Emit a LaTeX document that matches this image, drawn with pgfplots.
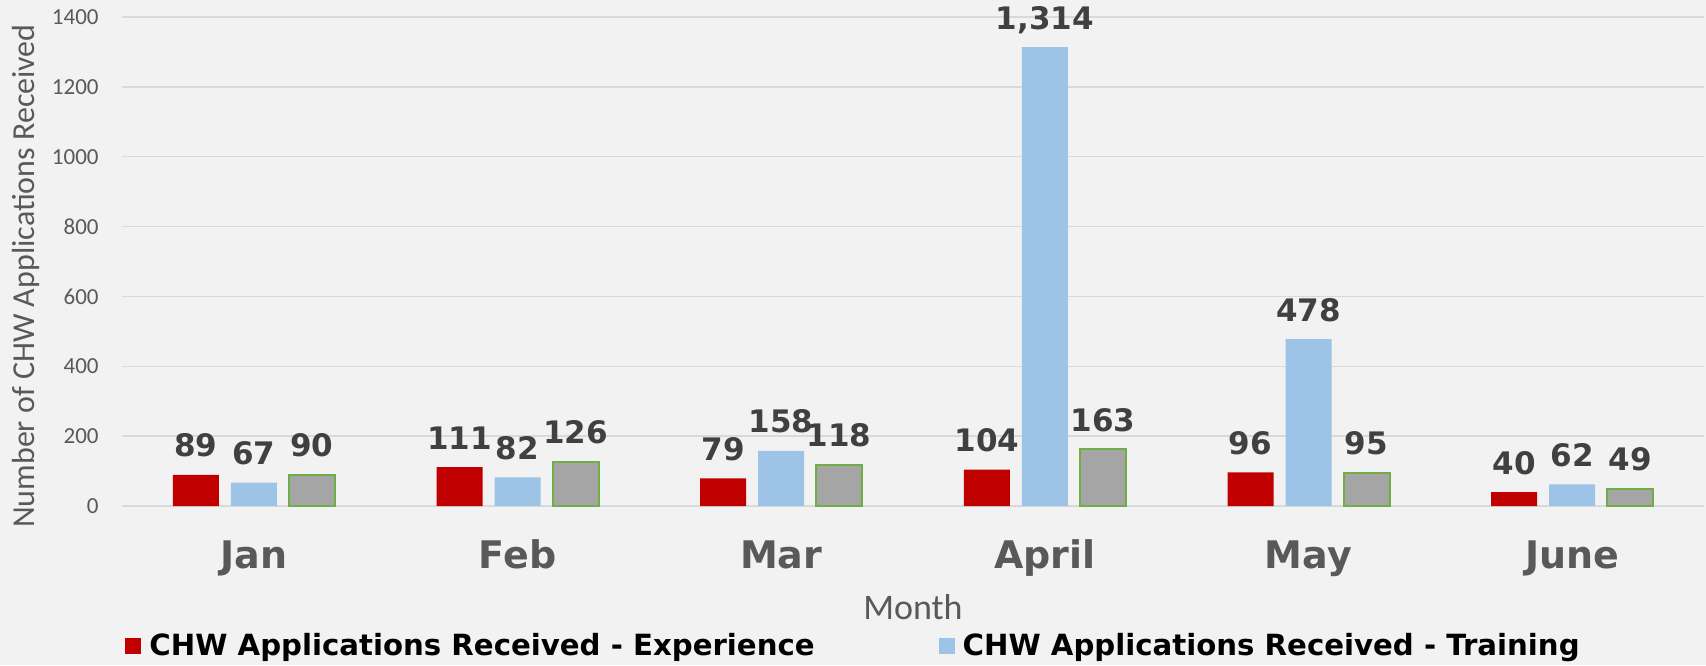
\documentclass[border=0pt]{standalone}
\usepackage{fontspec}
\setmainfont{DejaVu Sans}
\newfontfamily\carlito{Carlito}
\usepackage{pgfplots}
\pgfplotsset{compat=1.18}
\definecolor{bgc}{HTML}{F2F2F2}
\definecolor{gridc}{HTML}{D9D9D9}
\definecolor{tickc}{HTML}{595959}
\definecolor{labc}{HTML}{404040}
\definecolor{redc}{HTML}{C00000}
\definecolor{bluec}{HTML}{9DC3E6}
\definecolor{grayc}{HTML}{A5A5A5}
\definecolor{greenc}{HTML}{70AD47}
\begin{document}
\begin{tikzpicture}
\fill[bgc] (-61pt,-79.5pt) rectangle (792pt,253pt);
\begin{axis}[
  scale only axis, width=791pt, height=244.5pt,
  ybar=6pt, bar width=23pt,
  xmin=-0.5, xmax=5.5, ymin=0, ymax=1400,
  xtick={0,1,2,3,4,5},
  xticklabels={Jan,Feb,Mar,April,May,June},
  ytick={0,200,400,600,800,1000,1200,1400},
  major tick length=0pt,
  axis line style={draw=none},
  ymajorgrids, grid style={draw=gridc, line width=0.75pt},
  clip=false,
  /pgf/number format/assume math mode=true,
  /pgf/number format/1000 sep={},
  yticklabel style={font=\carlito\fontsize{11.5}{12}\selectfont, text=tickc, inner sep=0pt, anchor=east, xshift=-11.5pt},
  xticklabel style={font=\bfseries\fontsize{19}{20}\selectfont, text=tickc, anchor=base, yshift=-31pt},
  xlabel={Month},
  xlabel style={font=\carlito\fontsize{18}{20}\selectfont, text=tickc, at={(axis description cs:0.5,-0.2311)}, anchor=base, inner sep=0pt},
  ylabel={Number of CHW Applications Received},
  ylabel style={font=\carlito\fontsize{16}{18}\selectfont, text=tickc, at={(axis description cs:-0.0550,0.4703)}, rotate=0, anchor=base, inner sep=0pt},
  nodes near coords={\pgfmathprintnumber[1000 sep={,}]{\pgfplotspointmeta}},
  every node near coord/.append style={font=\bfseries\fontsize{15.5}{16}\selectfont, text=labc, anchor=base, yshift=9pt, inner sep=0pt},
  legend columns=2,
  legend image code/.code={\fill[#1] (0pt,-4pt) rectangle (8pt,4pt);},
  legend style={draw=none, fill=none, at={(axis description cs:0.0019,-0.2863)}, anchor=west, inner sep=0pt,
    font=\bfseries\fontsize{14.6}{16}\selectfont, text=black,
    cells={anchor=west},
    /tikz/every odd column/.append style={column sep=2pt},
    /tikz/every even column/.append style={column sep=60pt}},
]
\addplot[fill=redc, draw=none] coordinates {(0,89) (1,111) (2,79) (3,104) (4,96) (5,40)};
\addplot[fill=bluec, draw=none] coordinates {(0,67) (1,82) (2,158) (3,1314) (4,478) (5,62)};
\addplot[fill=grayc, draw=greenc, line width=1pt] coordinates {(0,90) (1,126) (2,118) (3,163) (4,95) (5,49)};
\legend{CHW Applications Received - Experience, CHW Applications Received - Training}
\end{axis}
\pgfresetboundingbox
\useasboundingbox (-61pt,-79.5pt) rectangle (792pt,253pt);
\end{tikzpicture}
\end{document}
